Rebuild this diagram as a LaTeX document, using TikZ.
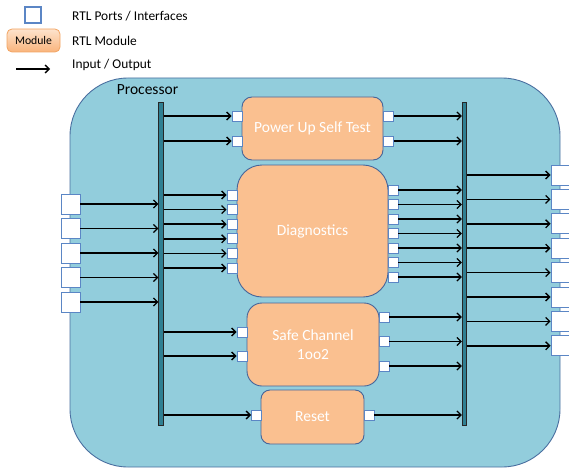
\documentclass[tikz,border=0pt]{standalone}
\usepackage{fontspec}
\setmainfont{Carlito}
\usetikzlibrary{arrows.meta}
\definecolor{procfill}{HTML}{92CDDC}
\definecolor{procline}{HTML}{4A6FA0}
\definecolor{modfill}{HTML}{FAC090}
\definecolor{modline}{HTML}{46659A}
\definecolor{portline}{HTML}{5B86C5}
\definecolor{busfill}{HTML}{2F7F92}
\definecolor{legtop}{HTML}{FDE3CD}
\definecolor{legbot}{HTML}{F9B47C}
\definecolor{legline}{HTML}{F2A462}
\tikzset{
  proc/.style={draw=procline, fill=procfill, line width=0.9pt, rounded corners=58pt},
  module/.style={draw=modline, fill=modfill, line width=0.9pt, text=white,
    font=\fontsize{15.5}{18}\selectfont, align=center, inner sep=0pt},
  port/.style={draw=portline, fill=white, line width=0.9pt, minimum size=10pt, inner sep=0pt},
  extport/.style={draw=portline, fill=white, line width=0.9pt, minimum width=19pt,
    minimum height=20pt, inner sep=0pt},
  bus/.style={draw=black!85, fill=busfill, line width=0.8pt, minimum width=4.5pt, inner sep=0pt},
  io/.style={draw=black, line width=1.6pt, -{Straight Barb[length=4pt,width=8pt,line width=1.3pt]}},
  legtext/.style={anchor=west, font=\fontsize{13.4}{15}\selectfont, inner sep=0pt}
}
\begin{document}
\begin{tikzpicture}[x=1pt,y=-1pt]
\useasboundingbox (0,0) rectangle (569,468);

% legend
\node[draw=portline, line width=1.3pt, fill=white, minimum size=16pt, inner sep=0pt] (legport) at (33,15) {};
\node[legtext] (legporttxt) at (72,16) {RTL Ports / Interfaces};
\node[draw=legline, line width=0.8pt, top color=legtop, bottom color=legbot, rounded corners=5pt,
  minimum width=53pt, minimum height=23pt, inner sep=0pt, font=\fontsize{11.7}{13}\selectfont] (legmod) at (33.5,40.5) {Module};
\node[legtext] (legmodtxt) at (72,41) {RTL Module};
\coordinate (legA) at (16,69);
\coordinate (legB) at (50,69);
\draw[io] (legA) -- (legB);
\node[legtext] (legiotxt) at (72,65) {Input / Output};

% processor outline
\draw[proc] (70,78) rectangle (560,467);
\node[font=\fontsize{15.5}{17}\selectfont, inner sep=0pt] (proclabel) at (147.5,90) {Processor};

% bus bars
\node[bus, minimum height=323pt] (lbar) at (161,263.5) {};
\node[bus, minimum height=323pt] (rbar) at (464.5,263.5) {};

% modules
\node[module, rounded corners=10pt, minimum width=141pt, minimum height=63pt] (pust) at (312.5,128.5) {Power Up Self Test};
\node[module, rounded corners=25pt, minimum width=151pt, minimum height=132pt] (diag) at (312.5,231) {Diagnostics};
\node[module, rounded corners=15pt, minimum width=132pt, minimum height=83pt] (safe) at (313,344.5) {Safe Channel\\[1pt]1oo2};
\node[module, rounded corners=9pt, minimum width=103pt, minimum height=54pt] (reset) at (312.5,417) {Reset};

% module ports
\node[port] (pl1) at (237,116) {};
\node[port] (pl2) at (237,141) {};
\node[port] (pr1) at (388.5,116) {};
\node[port] (pr2) at (388.5,141) {};
\foreach \i [evaluate=\i as \yy using 195+(\i-1)*14.6] in {1,...,6}
  \node[port] (dl\i) at (232,\yy) {};
\foreach \i [evaluate=\i as \yy using 190+(\i-1)*14.5] in {1,...,7}
  \node[port] (dr\i) at (393,\yy) {};
\node[port] (sl1) at (242,332) {};
\node[port] (sl2) at (242,356) {};
\node[port] (sr1) at (384,317) {};
\node[port] (sr2) at (384,341.5) {};
\node[port] (sr3) at (384,366) {};
\node[port] (rl1) at (256.5,415) {};
\node[port] (rr1) at (369,415) {};

% processor ports
\foreach \i [evaluate=\i as \yy using 204+(\i-1)*24.5] in {1,...,5}
  \node[extport] (ip\i) at (70.5,\yy) {};
\foreach \i [evaluate=\i as \yy using 175+(\i-1)*24.4] in {1,...,8}
  \node[extport, minimum width=20pt] (op\i) at (561,\yy) {};

% inputs into the left bus
\foreach \i in {1,...,5}
  \draw[io] (ip\i.east) -- (lbar.west |- ip\i.east);

% left bus to module inputs
\foreach \p in {pl1,pl2,dl1,dl2,dl3,dl4,dl5,dl6,sl1,sl2,rl1}
  \draw[io] (lbar.east |- \p.west) -- (\p.west);

% module outputs to right bus
\foreach \p in {pr1,pr2,dr1,dr2,dr3,dr4,dr5,dr6,dr7,sr1,sr2,sr3,rr1}
  \draw[io] (\p.east) -- (rbar.west |- \p.east);

% right bus to outputs
\foreach \i in {1,...,8}
  \draw[io] (rbar.east |- op\i.west) -- (op\i.west);
\end{tikzpicture}
\end{document}
